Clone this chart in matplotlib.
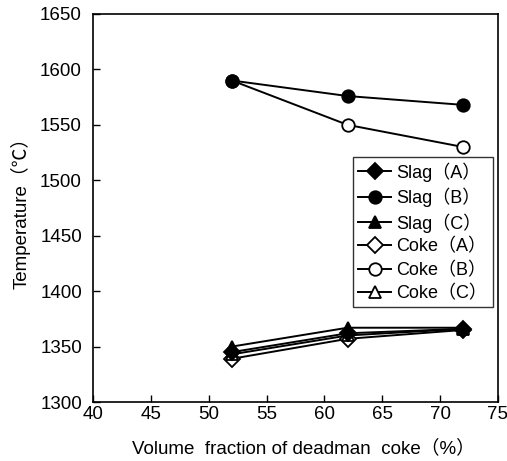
import matplotlib
matplotlib.use("Agg")
import matplotlib.pyplot as plt

plt.rcParams['font.family'] = ['Liberation Sans', 'Noto Sans CJK JP']

# volume fraction of deadman coke (%)
fraction = [52, 62, 72]

# temperatures (deg C)
slag_a = [1345, 1362, 1366]
slag_b = [1590, 1576, 1568]
slag_c = [1350, 1367, 1367]
coke_a = [1339, 1357, 1365]
coke_b = [1590, 1550, 1530]
coke_c = [1343, 1360, 1366]

labels = ['Slag（A）', 'Slag（B）', 'Slag（C）', 'Coke（A）', 'Coke（B）', 'Coke（C）']

fig = plt.figure(figsize=(5.07, 4.61), dpi=100)
ax = fig.add_axes([93 / 507, 1 - 402 / 461, 405 / 507, 388 / 461])

style = dict(color='black', lw=1.4, markersize=9, markeredgewidth=1.3)
dia = dict(style, markersize=8.5)

# open (coke) symbols go underneath the filled (slag) ones
h4, = ax.plot(fraction, coke_a, marker='D', mfc='white', label=labels[3], **dia)
h5, = ax.plot(fraction, coke_b, marker='o', mfc='white', label=labels[4], **style)
h6, = ax.plot(fraction, coke_c, marker='^', mfc='white', label=labels[5], **style)
h1, = ax.plot(fraction, slag_a, marker='D', mfc='black', label=labels[0], **dia)
h2, = ax.plot(fraction, slag_b, marker='o', mfc='black', label=labels[1], **style)
h3, = ax.plot(fraction, slag_c, marker='^', mfc='black', label=labels[2], **style)

ax.set_xlim(40, 75)
ax.set_ylim(1300, 1650)
ax.set_xticks(range(40, 76, 5))
ax.set_yticks(range(1300, 1651, 50))
ax.tick_params(direction='in', length=5, width=1, labelsize=13.5)
ax.tick_params(axis='x', pad=3)
ax.tick_params(axis='y', pad=8)
for s in ax.spines.values():
    s.set_linewidth(1.2)

ax.set_xlabel('Volume  fraction of deadman  coke（%）', fontsize=13.5)
ax.xaxis.set_label_coords(0.52, -0.095)
ax.set_ylabel('Temperature（℃）', fontsize=13.5, labelpad=7)

leg = ax.legend([h1, h2, h3, h4, h5, h6], labels,
                loc='upper left', bbox_to_anchor=(0.642, 0.632), fontsize=13,
                frameon=True, fancybox=False, edgecolor='black', handlelength=1.8,
                borderpad=0.3, labelspacing=0.33, handletextpad=0.3, borderaxespad=0)
leg.get_frame().set_linewidth(1.0)

fig.savefig('out.png', dpi=100)
